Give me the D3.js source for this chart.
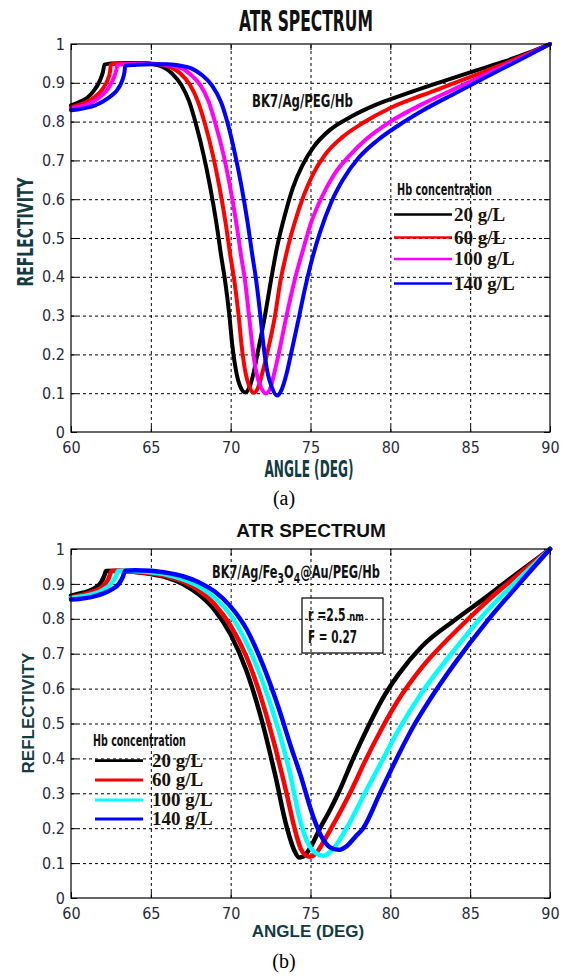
<!DOCTYPE html>
<html><head><meta charset="utf-8">
<script src="https://cdn.jsdelivr.net/npm/d3@7"></script>
<style>
html,body{margin:0;padding:0;background:#fff;}
svg{display:block;}
</style></head><body>
<svg id="fig" width="568" height="976"></svg>
<script>
// ---- shared axis ticks ----
const angleTicks = [60, 65, 70, 75, 80, 85, 90];
const reflTicks = [0, 0.1, 0.2, 0.3, 0.4, 0.5, 0.6, 0.7, 0.8, 0.9, 1];
const concLabels = ["20 g/L", "60 g/L", "100 g/L", "140 g/L"];

// ---- (a) BK7/Ag/PEG/Hb : [angle (deg), reflectivity] ----
const agHb20 = [[60,0.842],[60.5,0.850],[61,0.861],[61.4,0.878],[61.8,0.905],[62.0,0.928],[62.1,0.947],[62.5,0.950],[63.5,0.951],[64.5,0.951],[65.2,0.948],[65.8,0.940],[66.3,0.925],[66.9,0.895],[67.4,0.852],[67.85,0.790],[68.3,0.715],[68.7,0.635],[69.1,0.540],[69.4,0.455],[69.65,0.390],[69.92,0.300],[70.1,0.225],[70.35,0.155],[70.6,0.117],[70.9,0.102],[71.2,0.118],[71.45,0.155],[71.67,0.200],[72.15,0.300],[72.5,0.385],[72.9,0.475],[73.4,0.560],[73.9,0.630],[74.5,0.688],[75.2,0.735],[76.2,0.778],[77.5,0.812],[79,0.842],[81,0.872],[83,0.900],[85,0.927],[87,0.953],[88.5,0.975],[90,1.0]];
const agHb60 = [[60,0.837],[60.5,0.843],[61,0.851],[61.5,0.864],[62,0.885],[62.3,0.908],[62.45,0.930],[62.5,0.947],[63,0.949],[64,0.950],[65,0.949],[65.6,0.947],[66.3,0.939],[66.85,0.924],[67.45,0.895],[67.95,0.852],[68.42,0.790],[68.88,0.715],[69.28,0.635],[69.68,0.540],[69.98,0.455],[70.23,0.390],[70.5,0.300],[70.68,0.225],[70.92,0.155],[71.17,0.117],[71.46,0.101],[71.75,0.118],[72.0,0.155],[72.3,0.205],[72.78,0.300],[73.1,0.385],[73.55,0.470],[74.05,0.545],[74.6,0.612],[75.2,0.668],[75.9,0.714],[77,0.760],[78.3,0.797],[80,0.835],[82,0.868],[84,0.899],[86,0.931],[88,0.964],[90,1.0]];
const agHb100 = [[60,0.833],[60.5,0.838],[61,0.844],[61.5,0.854],[62,0.870],[62.4,0.890],[62.7,0.915],[62.85,0.935],[62.9,0.946],[63.5,0.948],[64.5,0.949],[65.5,0.948],[66.1,0.946],[66.9,0.938],[67.45,0.923],[68.1,0.894],[68.62,0.852],[69.08,0.790],[69.55,0.715],[69.95,0.635],[70.35,0.540],[70.65,0.455],[70.9,0.390],[71.15,0.300],[71.35,0.225],[71.6,0.155],[71.88,0.117],[72.2,0.099],[72.5,0.115],[72.75,0.155],[73.0,0.200],[73.5,0.300],[74.0,0.390],[74.5,0.465],[75.0,0.535],[75.7,0.605],[76.5,0.665],[77.5,0.715],[78.5,0.755],[80,0.800],[82,0.845],[84,0.884],[86,0.922],[88,0.960],[90,1.0]];
const agHb140 = [[60,0.829],[60.5,0.832],[61,0.836],[61.5,0.842],[62,0.852],[62.5,0.866],[62.9,0.882],[63.2,0.905],[63.35,0.928],[63.4,0.944],[64,0.946],[65,0.948],[66,0.948],[66.7,0.945],[67.6,0.936],[68.2,0.920],[68.85,0.892],[69.4,0.850],[69.85,0.790],[70.28,0.715],[70.67,0.635],[71.06,0.540],[71.36,0.455],[71.6,0.390],[71.86,0.300],[72.05,0.225],[72.3,0.155],[72.58,0.115],[72.9,0.094],[73.2,0.110],[73.5,0.150],[73.8,0.205],[74.3,0.300],[74.6,0.360],[75.0,0.430],[75.6,0.515],[76.3,0.592],[77,0.648],[78,0.706],[79.2,0.752],[80.5,0.790],[82,0.828],[84,0.872],[86,0.915],[88,0.957],[90,1.0]];

// ---- (b) BK7/Ag/Fe3O4@Au/PEG/Hb : [angle (deg), reflectivity] ----
const feHb20 = [[60,0.866],[60.5,0.872],[61,0.878],[61.5,0.888],[61.9,0.905],[62.1,0.925],[62.2,0.937],[63,0.938],[64,0.934],[65,0.928],[66,0.918],[67,0.900],[68,0.870],[69,0.825],[70,0.755],[71,0.650],[72,0.500],[72.8,0.350],[73.5,0.205],[74.0,0.135],[74.3,0.116],[74.6,0.120],[75,0.145],[75.6,0.200],[76.2,0.250],[76.74,0.300],[77.68,0.400],[78.6,0.490],[79.5,0.570],[80.5,0.640],[82,0.722],[84,0.795],[86,0.862],[88,0.932],[90,1.0]];
const feHb60 = [[60,0.862],[60.5,0.866],[61,0.872],[61.5,0.880],[62,0.893],[62.35,0.915],[62.55,0.937],[63,0.938],[64,0.935],[65,0.930],[66,0.922],[67,0.907],[68,0.882],[69,0.842],[70,0.780],[71,0.690],[72,0.560],[72.8,0.430],[73.5,0.300],[74,0.200],[74.4,0.140],[74.7,0.122],[74.97,0.118],[75.3,0.126],[75.8,0.160],[76.3,0.200],[77.47,0.300],[78.5,0.400],[79.4,0.480],[80.4,0.560],[82,0.662],[84,0.760],[86,0.848],[88,0.926],[90,1.0]];
const feHb100 = [[60,0.860],[60.5,0.863],[61,0.867],[61.5,0.873],[62,0.883],[62.5,0.900],[62.8,0.920],[62.95,0.937],[63.5,0.938],[64,0.937],[65,0.933],[66,0.926],[67,0.913],[68,0.893],[69,0.860],[70,0.810],[71,0.730],[72,0.620],[73,0.480],[73.7,0.360],[74.34,0.223],[74.8,0.160],[75.3,0.130],[75.8,0.121],[76.3,0.135],[76.8,0.165],[77.26,0.200],[78.4,0.300],[79.56,0.400],[80.5,0.480],[82,0.590],[84,0.710],[86,0.820],[88,0.912],[90,1.0]];
const feHb140 = [[60,0.855],[60.5,0.857],[61,0.860],[61.5,0.865],[62,0.872],[62.5,0.883],[63,0.900],[63.25,0.920],[63.4,0.938],[64,0.939],[65,0.938],[66,0.932],[67,0.922],[68,0.905],[69,0.878],[70,0.835],[71,0.770],[72,0.670],[73,0.545],[73.8,0.430],[74.34,0.357],[75.17,0.233],[75.7,0.175],[76.2,0.146],[76.74,0.138],[77.3,0.150],[77.8,0.175],[78.3,0.200],[79.35,0.300],[80.4,0.400],[81.3,0.480],[82.5,0.570],[84,0.670],[86,0.790],[88,0.897],[90,1.0]];

// ---- styling ----
const colorsA = ["#000000", "#ff0000", "#ff00ff", "#0000ff"];
const colorsB = ["#000000", "#ff0000", "#00ffff", "#0000ff"];
const NARROW = "'Liberation Sans Narrow','DejaVu Sans Condensed','Arial Narrow',sans-serif";
const SANS = "'Liberation Sans',Arial,sans-serif";
const SERIF = "'Liberation Serif','Times New Roman',serif";
const LABEL_INK = "#123c42";

const svg = d3.select("#fig");

// stretch or squeeze a text horizontally to a given width, anchored at (ax, ay)
function squeeze(sel, ax, ay, w, anchor) {
  const natural = sel.node().getComputedTextLength();
  const k = w / natural;
  const dx = anchor === "middle" ? -w / 2 : 0;
  sel.attr("x", 0).attr("y", 0).attr("text-anchor", "start")
    .attr("transform", `translate(${ax + dx},${ay}) scale(${k},1)`);
  return sel;
}

function drawPanel(cfg) {
  const g = svg.append("g");
  const x = d3.scaleLinear().domain([60, 90]).range([cfg.left, cfg.right]);
  const y = d3.scaleLinear().domain([0, 1]).range([cfg.bottom, cfg.top]);
  const h = cfg.bottom - cfg.top, w = cfg.right - cfg.left;

  // dashed grid
  g.append("g").attr("transform", `translate(0,${cfg.bottom})`)
    .call(d3.axisBottom(x).tickValues(angleTicks.slice(1, -1)).tickSize(-h).tickFormat(""))
    .call(s => s.select(".domain").remove())
    .call(s => s.selectAll("line").attr("stroke", "#000").attr("stroke-width", 1).attr("stroke-dasharray", "3,3"));
  g.append("g").attr("transform", `translate(${cfg.left},0)`)
    .call(d3.axisLeft(y).tickValues(reflTicks.slice(1, -1)).tickSize(-w).tickFormat(""))
    .call(s => s.select(".domain").remove())
    .call(s => s.selectAll("line").attr("stroke", "#000").attr("stroke-width", 1).attr("stroke-dasharray", "3,3"));

  // curves
  const line = d3.line().x(d => x(d[0])).y(d => y(d[1])).curve(d3.curveMonotoneX);
  cfg.series.forEach((s, i) => {
    g.append("path").datum(s).attr("d", line)
      .attr("fill", "none").attr("stroke", cfg.colors[i])
      .attr("stroke-width", cfg.lineWidth).attr("stroke-linejoin", "round").attr("stroke-linecap", "round");
  });

  // frame + inward ticks
  g.append("rect").attr("x", cfg.left).attr("y", cfg.top).attr("width", w).attr("height", h)
    .attr("fill", "none").attr("stroke", "#000").attr("stroke-width", 1.2);
  const tk = 6;
  const axB = g.append("g").attr("transform", `translate(0,${cfg.bottom})`)
    .call(d3.axisTop(x).tickValues(angleTicks).tickSize(tk).tickFormat(""));
  const axT = g.append("g").attr("transform", `translate(0,${cfg.top})`)
    .call(d3.axisBottom(x).tickValues(angleTicks).tickSize(tk).tickFormat(""));
  const axL = g.append("g").attr("transform", `translate(${cfg.left},0)`)
    .call(d3.axisRight(y).tickValues(reflTicks).tickSize(tk).tickFormat(""));
  const axR = g.append("g").attr("transform", `translate(${cfg.right},0)`)
    .call(d3.axisLeft(y).tickValues(reflTicks).tickSize(tk).tickFormat(""));
  [axB, axT, axL, axR].forEach(a => {
    a.select(".domain").remove();
    a.selectAll("line").attr("stroke", "#000");
  });

  // tick labels
  const xl = g.append("g").attr("transform", `translate(0,${cfg.bottom})`)
    .call(d3.axisBottom(x).tickValues(angleTicks).tickSize(0).tickPadding(10).tickFormat(d3.format("d")));
  const yl = g.append("g").attr("transform", `translate(${cfg.left},0)`)
    .call(d3.axisLeft(y).tickValues(reflTicks).tickSize(0).tickPadding(6).tickFormat(d => d === 0 || d === 1 ? String(d) : d3.format(".1f")(d)));
  [xl, yl].forEach(a => {
    a.select(".domain").remove();
    a.selectAll("text").attr("font-family", NARROW).attr("font-size", 16).attr("fill", "#2a2a3a");
  });

  return { g, x, y };
}

function label(font, size, weight, fill) {
  return svg.append("text").attr("font-family", font).attr("font-size", size)
    .attr("font-weight", weight).attr("fill", fill);
}

// ================= panel (a) =================
drawPanel({
  left: 71, right: 550, top: 44, bottom: 432,
  series: [agHb20, agHb60, agHb100, agHb140], colors: colorsA, lineWidth: 4
});
squeeze(label(NARROW, 28, "bold", "#111").text("ATR SPECTRUM"), 306, 31, 134, "middle");
label(NARROW, 22, "bold", LABEL_INK).attr("transform", "translate(33,232) rotate(-90)")
  .attr("text-anchor", "middle").attr("textLength", 109).attr("lengthAdjust", "spacingAndGlyphs")
  .text("REFLECTIVITY");
squeeze(label(NARROW, 23, "bold", LABEL_INK).text("ANGLE (DEG)"), 309, 477, 89, "middle");
squeeze(label(NARROW, 17, "bold", "#111").text("BK7/Ag/PEG/Hb"), 252, 107, 101);

// legend (a)
squeeze(label(NARROW, 16, "bold", "#111").text("Hb concentration"), 397, 195, 95);
const legA = [214.5, 237.5, 259, 283.5];
concLabels.forEach((lab, i) => {
  svg.append("line").attr("x1", 394).attr("x2", 452).attr("y1", legA[i]).attr("y2", legA[i])
    .attr("stroke", colorsA[i]).attr("stroke-width", 2.5);
  label(SERIF, 19, "bold", "#1a1208").attr("x", 454).attr("y", legA[i] + 6).text(lab);
});
label(SERIF, 20, "normal", "#000").attr("x", 284).attr("y", 505).attr("text-anchor", "middle").text("(a)");

// ================= panel (b) =================
drawPanel({
  left: 71, right: 550, top: 549, bottom: 898,
  series: [feHb20, feHb60, feHb100, feHb140], colors: colorsB, lineWidth: 4.5
});
label(SANS, 19, "bold", "#111").attr("x", 311).attr("y", 537).attr("text-anchor", "middle").text("ATR SPECTRUM");
label(SANS, 17, "bold", LABEL_INK).attr("transform", "translate(34,713) rotate(-90)")
  .attr("text-anchor", "middle").text("REFLECTIVITY");
label(SANS, 17, "bold", LABEL_INK).attr("x", 308).attr("y", 937).attr("text-anchor", "middle").text("ANGLE (DEG)");

// structure label with subscripts
const st = label(NARROW, 17, "bold", "#111");
st.append("tspan").text("BK7/Ag/Fe");
st.append("tspan").attr("dy", 5).attr("font-size", 14).text("3");
st.append("tspan").attr("dy", -5).text("O");
st.append("tspan").attr("dy", 5).attr("font-size", 14).text("4");
st.append("tspan").attr("dy", -5).text("@Au/PEG/Hb");
squeeze(st, 212, 578, 168);

// parameter box
svg.append("rect").attr("x", 302).attr("y", 598).attr("width", 81).attr("height", 55)
  .attr("fill", "none").attr("stroke", "#000").attr("stroke-width", 1.2);
const rt = label(NARROW, 17, "bold", "#111");
rt.append("tspan").text("r =2.5 ");
rt.append("tspan").attr("font-size", 13).text("nm");
squeeze(rt, 308, 621, 56);
squeeze(label(NARROW, 17, "bold", "#111").text("F = 0.27"), 308, 643, 49);

// legend (b)
squeeze(label(NARROW, 16, "bold", "#111").text("Hb concentration"), 93, 746, 93);
const legB = [760.7, 780, 800, 819];
concLabels.forEach((lab, i) => {
  svg.append("line").attr("x1", 95).attr("x2", 143).attr("y1", legB[i]).attr("y2", legB[i])
    .attr("stroke", colorsB[i]).attr("stroke-width", 2.8);
  label(SERIF, 19, "bold", "#1a1208").attr("x", 152).attr("y", legB[i] + 6).text(lab);
});
label(SERIF, 20, "normal", "#000").attr("x", 284).attr("y", 968).attr("text-anchor", "middle").text("(b)");
</script></body></html>
